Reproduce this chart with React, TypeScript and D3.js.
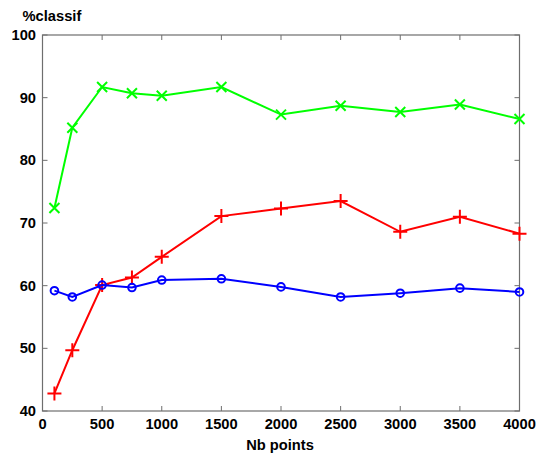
import React, { useEffect, useRef } from 'react';
import * as d3 from 'd3';

// nombre de points (axe x)
const nbPoints = [100, 250, 500, 750, 1000, 1500, 2000, 2500, 3000, 3500, 4000];
// séries
const greenSeries = [72.4, 85.2, 91.7, 90.7, 90.3, 91.7, 87.3, 88.7, 87.7, 88.9, 86.6];
const redSeries = [42.8, 49.7, 60.1, 61.3, 64.6, 71.1, 72.3, 73.5, 68.6, 71.0, 68.3];
const blueSeries = [59.2, 58.2, 60.1, 59.7, 60.9, 61.1, 59.8, 58.2, 58.8, 59.6, 59.0];
const xTicks = [0, 500, 1000, 1500, 2000, 2500, 3000, 3500, 4000];
const yTicks = [40, 50, 60, 70, 80, 90, 100];

const W = 540;
const H = 453;
const margin = { left: 42.5, right: 20.5, top: 35, bottom: 42 };
const axisColor = '#6e6e6e';
const font = '"Liberation Sans", Arial, sans-serif';
const fs = 14.7;

const App: React.FC = () => {
  const ref = useRef<SVGSVGElement>(null);

  useEffect(() => {
    if (!ref.current) return;
    const svg = d3.select(ref.current);
    svg.selectAll('*').remove();

    const x = d3.scaleLinear().domain([0, 4000]).range([margin.left, W - margin.right]);
    const y = d3.scaleLinear().domain([40, 100]).range([H - margin.bottom, margin.top]);
    const [x0, x1] = x.range();
    const [y0, y1] = y.range();

    svg.append('rect').attr('width', W).attr('height', H).attr('fill', '#fff');

    // cadre
    svg
      .append('rect')
      .attr('x', x0)
      .attr('y', y1)
      .attr('width', x1 - x0)
      .attr('height', y0 - y1)
      .attr('fill', 'none')
      .attr('stroke', axisColor)
      .attr('stroke-width', 1.2);

    const tl = 5;
    // graduations x (bas et haut)
    xTicks.forEach((t) => {
      svg.append('line').attr('x1', x(t)).attr('x2', x(t)).attr('y1', y0).attr('y2', y0 - tl).attr('stroke', axisColor);
      svg.append('line').attr('x1', x(t)).attr('x2', x(t)).attr('y1', y1).attr('y2', y1 + tl).attr('stroke', axisColor);
      svg
        .append('text')
        .attr('x', x(t))
        .attr('y', y0 + 18)
        .attr('text-anchor', 'middle')
        .attr('font-family', font)
        .attr('font-weight', 'bold')
        .attr('font-size', fs)
        .text(t);
    });
    // graduations y (gauche et droite)
    yTicks.forEach((t) => {
      svg.append('line').attr('x1', x0).attr('x2', x0 + tl).attr('y1', y(t)).attr('y2', y(t)).attr('stroke', axisColor);
      svg.append('line').attr('x1', x1).attr('x2', x1 - tl).attr('y1', y(t)).attr('y2', y(t)).attr('stroke', axisColor);
      svg
        .append('text')
        .attr('x', x0 - 6.5)
        .attr('y', y(t) + 5)
        .attr('text-anchor', 'end')
        .attr('font-family', font)
        .attr('font-weight', 'bold')
        .attr('font-size', fs)
        .text(t);
    });

    // titres des axes
    svg
      .append('text')
      .attr('x', 22.5)
      .attr('y', 20.5)
      .attr('font-family', font)
      .attr('font-weight', 'bold')
      .attr('font-size', fs)
      .text('%classif');
    svg
      .append('text')
      .attr('x', (x0 + x1) / 2 - 1)
      .attr('y', 449.5)
      .attr('text-anchor', 'middle')
      .attr('font-family', font)
      .attr('font-weight', 'bold')
      .attr('font-size', fs)
      .text('Nb points');

    const line = d3
      .line<number>()
      .x((_, i) => x(nbPoints[i]))
      .y((d) => y(d));

    const series = [
      { values: greenSeries, color: '#00ff00', marker: 'x' },
      { values: redSeries, color: '#ff0000', marker: '+' },
      { values: blueSeries, color: '#0000ff', marker: 'o' },
    ];

    series.forEach((s) => {
      svg
        .append('path')
        .datum(s.values)
        .attr('d', line)
        .attr('fill', 'none')
        .attr('stroke', s.color)
        .attr('stroke-width', 2);

      const g = svg.append('g').attr('stroke', s.color).attr('stroke-width', 2).attr('fill', 'none');
      s.values.forEach((v, i) => {
        const cx = x(nbPoints[i]);
        const cy = y(v);
        if (s.marker === 'x') {
          const r = 5;
          g.append('path').attr('d', `M${cx - r},${cy - r}L${cx + r},${cy + r}M${cx - r},${cy + r}L${cx + r},${cy - r}`);
        } else if (s.marker === '+') {
          const r = 7;
          g.append('path').attr('d', `M${cx - r},${cy}L${cx + r},${cy}M${cx},${cy - r}L${cx},${cy + r}`);
        } else {
          g.append('circle').attr('cx', cx).attr('cy', cy).attr('r', 3.8);
        }
      });
    });
  }, []);

  return (
    <div style={{ position: 'absolute', left: 0, top: 0 }}>
      <svg ref={ref} width={W} height={H} style={{ display: 'block' }} />
    </div>
  );
};

export default App;
